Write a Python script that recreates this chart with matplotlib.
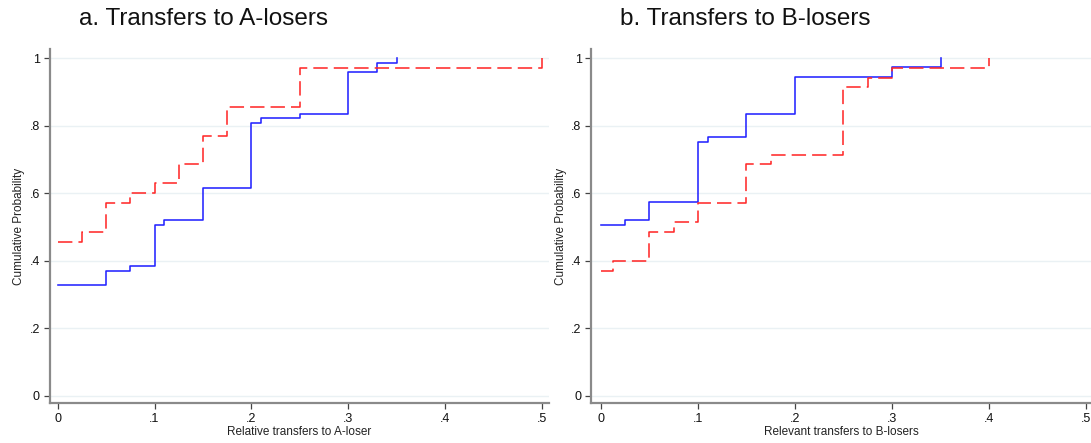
import matplotlib
matplotlib.use("Agg")
import matplotlib.pyplot as plt

plt.rcParams['font.family'] = ['Liberation Sans', 'DejaVu Sans']

# panel a: relative transfers to A-loser (empirical CDFs)
a_blue_x = [0, 0.05, 0.075, 0.1, 0.11, 0.15, 0.2, 0.21, 0.25, 0.3, 0.33, 0.35]
a_blue_y = [0.329, 0.370, 0.384, 0.507, 0.521, 0.616, 0.808, 0.822, 0.836, 0.959, 0.986, 1.0]
a_red_x = [0, 0.025, 0.05, 0.075, 0.1, 0.125, 0.15, 0.175, 0.25, 0.5]
a_red_y = [0.457, 0.486, 0.571, 0.600, 0.629, 0.686, 0.771, 0.857, 0.971, 1.0]

# panel b: relevant transfers to B-losers
b_blue_x = [0, 0.025, 0.05, 0.1, 0.11, 0.15, 0.2, 0.3, 0.35]
b_blue_y = [0.507, 0.521, 0.575, 0.753, 0.767, 0.836, 0.945, 0.973, 1.0]
b_red_x = [0, 0.0125, 0.05, 0.075, 0.1, 0.15, 0.175, 0.25, 0.275, 0.3, 0.4]
b_red_y = [0.371, 0.400, 0.486, 0.514, 0.571, 0.686, 0.714, 0.914, 0.943, 0.971, 1.0]

x_ticks = [0, 0.1, 0.2, 0.3, 0.4, 0.5]
x_ticklabels = ["0", ".1", ".2", ".3", ".4", ".5"]
y_ticks = [0, 0.2, 0.4, 0.6, 0.8, 1.0]
y_ticklabels = ["0", ".2", ".4", ".6", ".8", "1"]

fig = plt.figure(figsize=(10.91, 4.43), dpi=100)
ax1 = fig.add_axes([0.0454, 0.0896, 0.4578, 0.7991])
ax2 = fig.add_axes([0.5420, 0.0896, 0.4580, 0.7991])

blue = '#2424ff'
red = '#ff2a2a'
spine_c = '#8a8a8a'


def style(ax, xmin, xmax, xlabel):
    ax.set_xlim(xmin, xmax)
    ax.set_ylim(-0.0225, 1.0267)
    ax.set_xticks(x_ticks)
    ax.set_xticklabels(x_ticklabels)
    ax.set_yticks(y_ticks)
    ax.set_yticklabels(y_ticklabels)
    for s in ['top', 'right']:
        ax.spines[s].set_visible(False)
    for s in ['left', 'bottom']:
        ax.spines[s].set_color(spine_c)
        ax.spines[s].set_linewidth(1.6)
    ax.tick_params(axis='both', length=4, width=0.9, color='#444444',
                   labelsize=9, labelcolor='#111111', pad=3)
    ax.grid(axis='y', color='#eaf1f4', linewidth=1.0)
    ax.set_axisbelow(True)
    ax.set_xlabel(xlabel, fontsize=8.5, color='#222222', labelpad=1)
    ax.set_ylabel("Cumulative Probability", fontsize=8.5, color='#222222', labelpad=3)


ax1.plot(a_blue_x, a_blue_y, drawstyle='steps-post', color=blue, lw=1.15)
ax1.plot(a_red_x, a_red_y, drawstyle='steps-post', color=red, lw=1.15,
         linestyle=(0, (9.0, 3.8)))
style(ax1, -0.0083, 0.507, "Relative transfers to A-loser")

ax2.plot(b_blue_x, b_blue_y, drawstyle='steps-post', color=blue, lw=1.15)
ax2.plot(b_red_x, b_red_y, drawstyle='steps-post', color=red, lw=1.15,
         linestyle=(0, (9.0, 3.8)))
style(ax2, -0.0097, 0.505, "Relevant transfers to B-losers")

fig.text(79 / 1091, 1 - 19 / 443, "a. Transfers to A-losers", fontsize=17.5,
         ha='left', va='center', color='#111111')
fig.text(620 / 1091, 1 - 19 / 443, "b. Transfers to B-losers", fontsize=17.5,
         ha='left', va='center', color='#111111')

fig.savefig("out.png", dpi=100, facecolor='white')
